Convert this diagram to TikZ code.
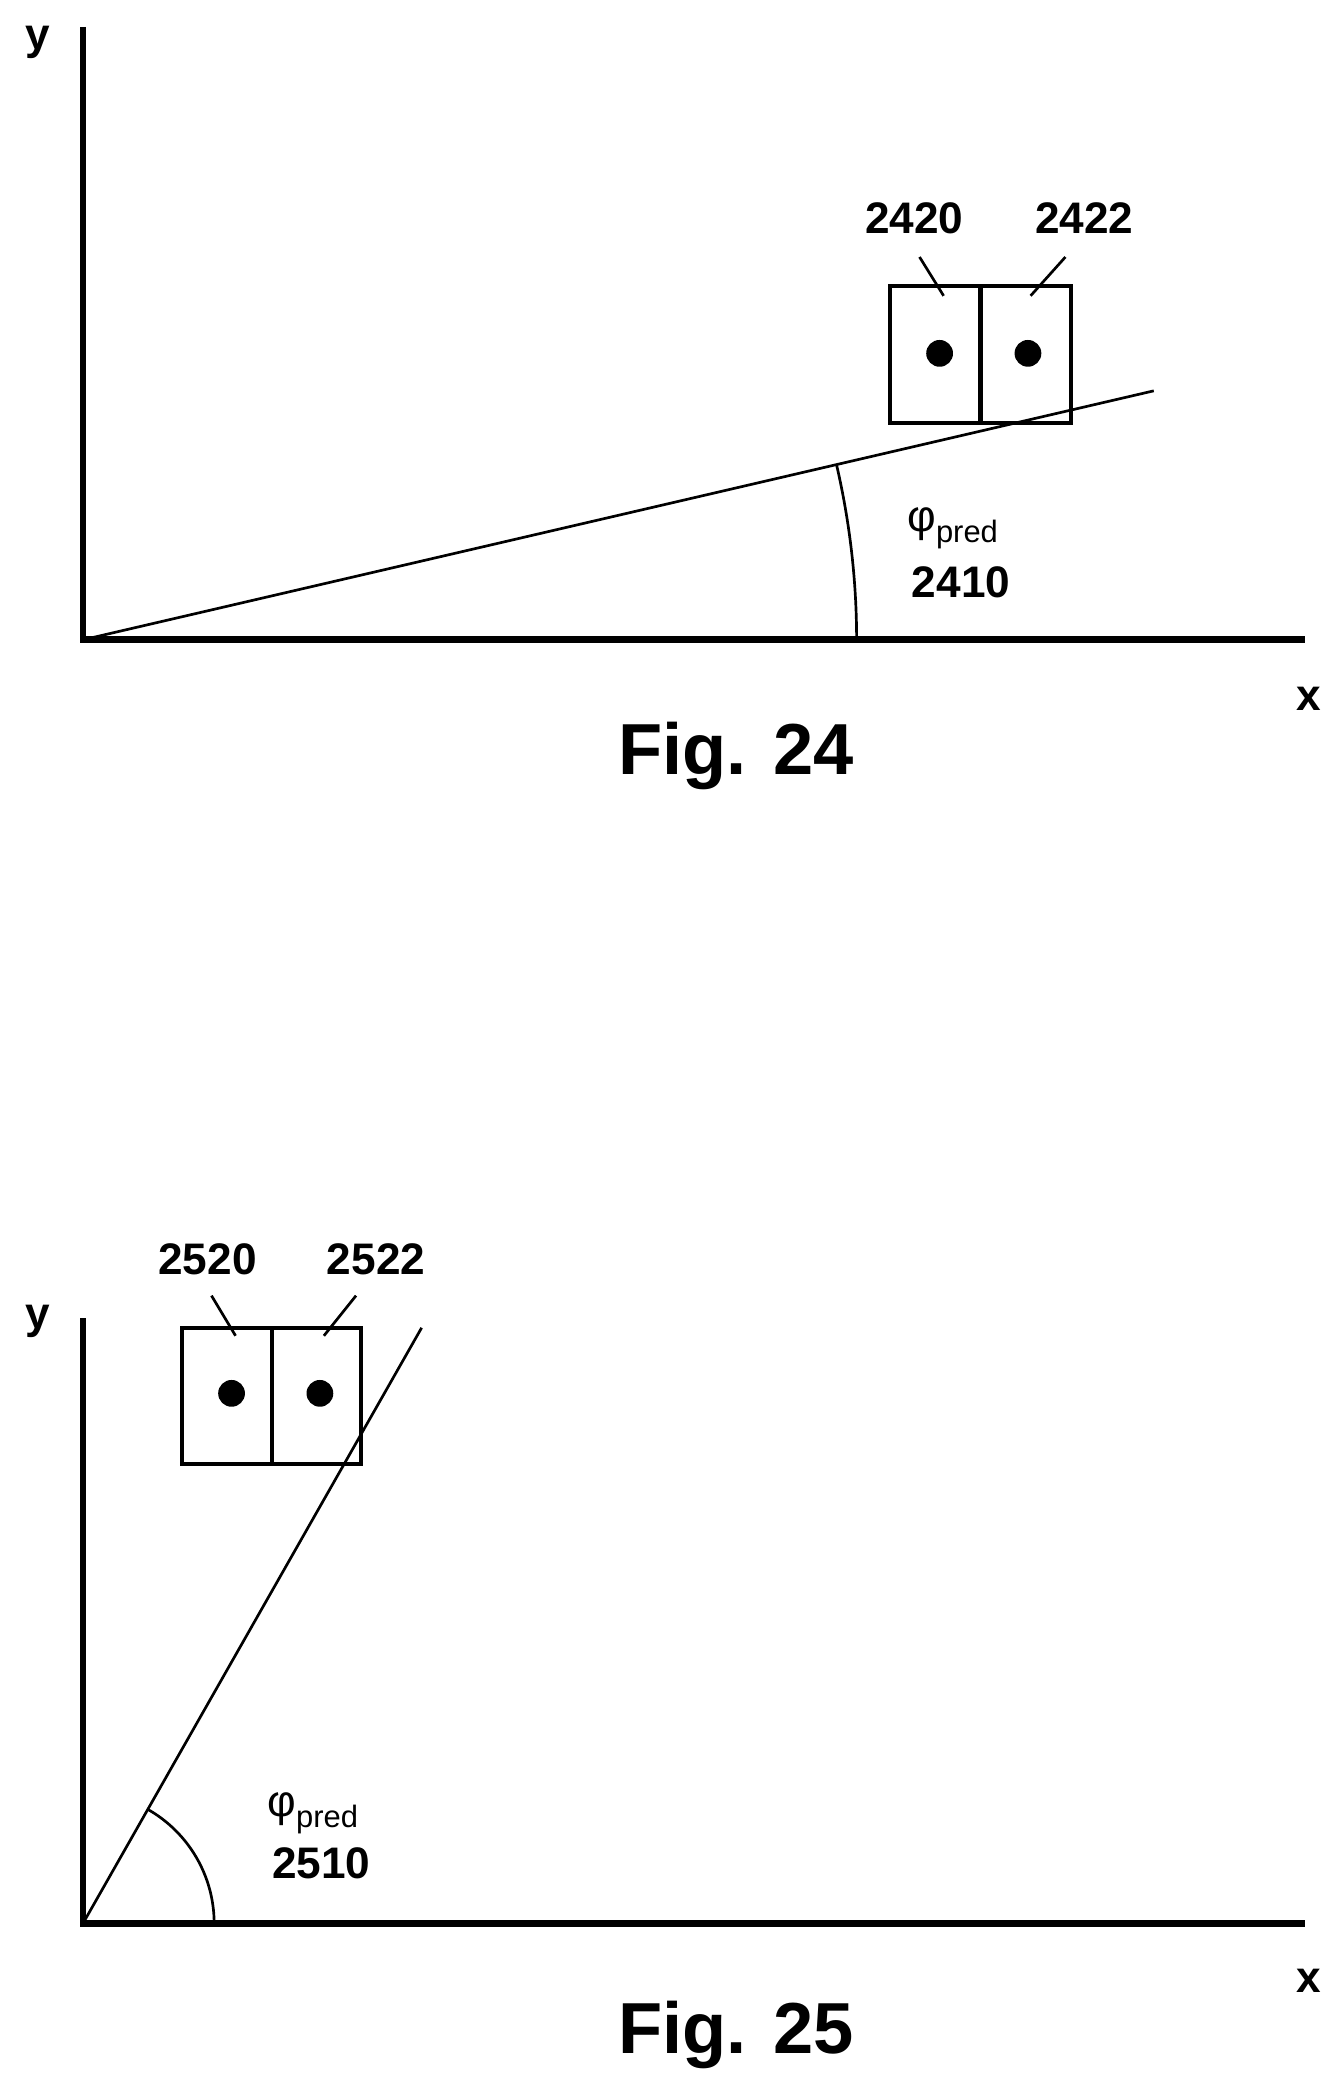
\documentclass[tikz,border=0pt]{standalone}
\usepackage{fontspec}
\setmainfont{Liberation Sans}
\begin{document}
\begin{tikzpicture}
[x=1pt,y=-1pt,
 axis/.style={line width=5pt},
 cell/.style={draw,line width=3pt,minimum width=67pt,minimum height=102pt,inner sep=0pt},
 lbl/.style={font=\fontsize{33}{36}\selectfont\bfseries},
 greek/.style={font=\fontsize{33}{36}\selectfont},
 figlbl/.style={font=\fontsize{54}{60}\selectfont\bfseries}]
\useasboundingbox (0,0) rectangle (1000,1560);
% Fig. 24
\coordinate (o1) at (62,478);
\draw [axis] (62,20) -- (o1) -- (975,478);
\node [lbl] (y1) at (28,32) {y};
\node [lbl] (x1) at (978,522) {x};
\coordinate (e1) at (862,292);
\draw [line width=2pt] (o1) -- (e1);
\draw [line width=2pt] (640,478) arc [start angle=0, end angle=-13.1, radius=578];
\node [cell] (c2420) at (698.5,265) {};
\node [cell] (c2422) at (766.5,265) {};
\fill (702,264) circle (10) (768,264) circle (10);
\node [lbl] (t2420) at (683,163) {2420};
\node [lbl] (t2422) at (810,163) {2422};
\draw [line width=2pt] (687,192) -- (705,221);
\draw [line width=2pt] (796,192) -- (770,221);
\node [greek] (p1) at (712,395) {φ\textsubscript{pred}};
\node [lbl] (t2410) at (718,435) {2410};
\node [figlbl] (f24) at (550,565) {Fig. 24};
% Fig. 25
\coordinate (o2) at (62,1437);
\draw [axis] (62,985) -- (o2) -- (975,1437);
\node [lbl] (y2) at (28,987) {y};
\node [lbl] (x2) at (978,1480) {x};
\coordinate (e2) at (315,992);
\draw [line width=2pt] (o2) -- (e2);
\draw [line width=2pt] (160,1437) arc [start angle=0, end angle=-60.4, radius=98];
\node [cell] (c2520) at (169.5,1043) {};
\node [cell] (c2522) at (236.5,1043) {};
\fill (173,1041) circle (10) (239,1041) circle (10);
\node [lbl] (t2520) at (155,941) {2520};
\node [lbl] (t2522) at (281,941) {2522};
\draw [line width=2pt] (158,968) -- (176,998);
\draw [line width=2pt] (266,968) -- (242,998);
\node [greek] (p2) at (234,1355) {φ\textsubscript{pred}};
\node [lbl] (t2510) at (240,1392) {2510};
\node [figlbl] (f25) at (550,1520) {Fig. 25};
\end{tikzpicture}
\end{document}
